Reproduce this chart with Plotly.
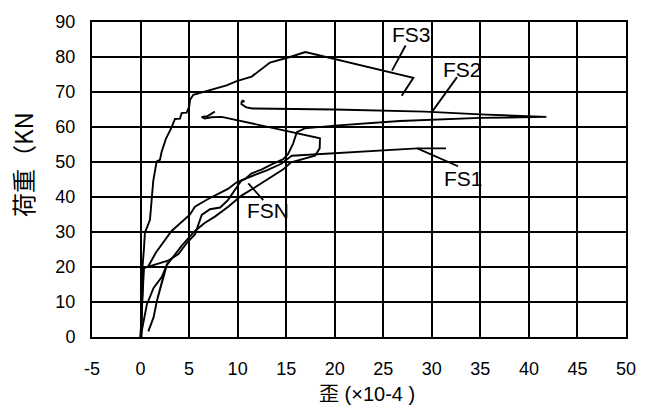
import plotly.graph_objects as go

# Load (kN) versus strain (x10-4) for the four specimens
fsn_x = [0.0, 0.25, 0.65, 1.34, 2.2, 2.8, 2.7, 2.2, 1.68, 1.34, 0.8, 1.34, 1.68, 2.2, 2.7,
         4.25, 5.6, 6.6, 7.66, 9.03, 10.4, 11.8, 13.15, 14.7, 15.5, 16.94, 17.97, 18.45,
         18.48, 8.35, 7.3, 6.6, 6.3, 6.9, 7.65]
fsn_y = [0.0, 4.0, 9.3, 14.0, 17.2, 21.3, 20.5, 15.8, 10.3, 5.6, 1.6, 5.6, 10.3, 15.8, 20.5,
         26.1, 30.3, 32.6, 34.4, 37.2, 40.4, 42.8, 45.1, 47.9, 49.9, 51.1, 51.8, 53.9,
         56.8, 62.9, 62.8, 62.4, 62.9, 63.1, 64.4]

fs1_x = [0.0, 0.2, 0.35, 0.9, 2.9, 3.9, 4.8, 5.6, 6.1, 6.3, 7.15, 8.2, 9.0, 9.7, 10.4,
         11.5, 13.0, 14.5, 15.57, 28.5, 31.46]
fs1_y = [0.0, 10.0, 19.8, 20.2, 21.9, 23.7, 27.0, 29.3, 33.6, 34.9, 36.5, 37.0, 39.1, 41.8,
         44.8, 46.0, 47.6, 49.5, 51.8, 53.9, 53.9]

fs2_x = [0.0, 0.15, 0.3, 0.8, 1.6, 3.2, 4.1, 5.1, 5.6, 7.0, 8.35, 9.0, 9.9, 10.75, 11.4,
         12.5, 13.5, 14.7, 15.2, 15.7, 16.1, 16.9, 20.0, 26.7, 35.0, 41.8, 35.0, 29.3,
         20.0, 11.5, 10.9, 10.4, 10.4, 10.7, 10.4]
fs2_y = [0.0, 10.0, 19.6, 20.2, 24.2, 30.3, 32.6, 35.0, 37.2, 39.5, 41.4, 42.3, 44.2, 45.1,
         46.7, 47.9, 49.3, 50.8, 52.3, 55.2, 58.5, 59.6, 60.4, 61.7, 62.6, 62.9, 63.6, 64.4,
         65.0, 65.3, 65.6, 66.5, 67.1, 67.3, 67.6]

fs3_x = [0.1, 0.12, 0.2, 0.35, 0.45, 0.97, 1.14, 1.31, 1.66, 2.0, 2.17, 2.62, 3.2, 3.54,
         4.06, 4.23, 4.75, 5.02, 5.09, 5.43, 8.87, 9.9, 11.45, 12.3, 13.33, 15.39, 16.97,
         28.1, 26.9]
fs3_y = [0.0, 10.0, 20.0, 25.2, 29.8, 33.5, 40.0, 44.6, 50.2, 50.6, 52.9, 56.7, 59.9, 62.3,
         62.4, 63.95, 64.1, 65.9, 67.7, 69.2, 71.9, 73.1, 74.4, 76.1, 78.4, 80.0, 81.4,
         74.05, 68.9]

series = [("FSN", fsn_x, fsn_y), ("FS1", fs1_x, fs1_y),
          ("FS2", fs2_x, fs2_y), ("FS3", fs3_x, fs3_y)]

# Specimen labels and their leader lines (label centre, leader start, leader end)
label_names = ["FS3", "FS2", "FS1", "FSN"]
label_pos = [(27.9, 86.5), (33.2, 76.3), (33.3, 45.4), (13.1, 36.1)]
leader_from = [(27.3, 83.3), (32.6, 74.25), (32.7, 48.8), (12.64, 39.1)]
leader_to = [(25.9, 76.1), (30.0, 64.25), (28.5, 53.9), (11.1, 43.9)]

x_ticks = list(range(-5, 51, 5))
x_tick_text = [str(v) for v in x_ticks]  # plain hyphen for "-5"
y_ticks = list(range(0, 91, 10))

LATIN = "Liberation Sans Narrow, Liberation Sans, Arial, sans-serif"
MIXED = "Liberation Sans, Noto Sans CJK SC, sans-serif"

fig = go.Figure()
for name, xs, ys in series:
    fig.add_trace(go.Scatter(x=xs, y=ys, mode="lines", name=name,
                             line=dict(color="black", width=1.9),
                             showlegend=False, hoverinfo="skip"))

for name, (lx, ly), (ax0, ay0), (ax1, ay1) in zip(label_names, label_pos,
                                                 leader_from, leader_to):
    fig.add_annotation(x=lx, y=ly, text=name, showarrow=False,
                       xanchor="center", yanchor="middle",
                       font=dict(family=LATIN, size=21, color="black"))
    fig.add_shape(type="line", x0=ax0, y0=ay0, x1=ax1, y1=ay1,
                  line=dict(color="black", width=1.8))

axis_common = dict(showgrid=True, gridcolor="black", gridwidth=1.7,
                   showline=True, linecolor="black", linewidth=2, mirror=True,
                   zeroline=False, ticks="",
                   tickfont=dict(family=LATIN, size=18, color="black"))

fig.update_xaxes(range=[-5, 50], tickvals=x_ticks, ticktext=x_tick_text,
                 ticklabelstandoff=14, **axis_common)
fig.update_yaxes(range=[0, 90], tickvals=y_ticks, ticklabelstandoff=11, **axis_common)

fig.add_annotation(xref="paper", yref="paper", x=0.515, y=-0.18,
                   xanchor="center", yanchor="middle",
                   text="歪 (×10-4 )", showarrow=False,
                   font=dict(family=MIXED, size=20, color="black"))
fig.add_annotation(xref="paper", yref="paper", x=-0.131, y=0.546,
                   xanchor="center", yanchor="middle",
                   text="荷重（KN", textangle=-90, showarrow=False,
                   font=dict(family="Noto Sans CJK SC, sans-serif", size=24, color="black"))

fig.update_layout(width=651, height=414,
                  margin=dict(l=92, r=25, t=13, b=77),
                  plot_bgcolor="white", paper_bgcolor="white")

fig.write_html("out.html")
